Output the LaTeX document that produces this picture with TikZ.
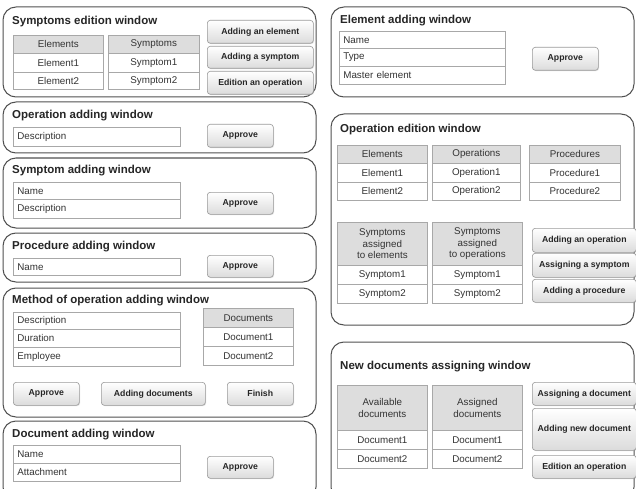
\documentclass[tikz,border=0pt]{standalone}
\usepackage{fontspec}
\setmainfont{Liberation Sans}
\usetikzlibrary{shadows}
\definecolor{winc}{HTML}{505050}
\definecolor{cellc}{HTML}{A8A8A8}
\definecolor{hdrc}{HTML}{DDDDDD}
\definecolor{btnc}{HTML}{9A9A9A}
\tikzset{
  x=1pt, y=-1pt,
  win/.style={draw=winc, line width=1pt, rounded corners=13pt},
  wtitle/.style={anchor=west, inner sep=0pt, font=\bfseries\fontsize{11.5}{13}\selectfont, text=black!85},
  cell/.style={draw=cellc, line width=0.7pt, fill=white, inner sep=0pt, align=center, font=\fontsize{9.8}{11.5}\selectfont, text=black!80},
  hdr/.style={cell, fill=hdrc},
  field/.style={draw=cellc, line width=0.7pt, fill=white, inner xsep=4pt, inner ysep=0pt, align=left, font=\fontsize{9.8}{11.5}\selectfont, text=black!80},
  btn/.style={draw=btnc, line width=0.6pt, rounded corners=3pt, top color=white, bottom color=black!14, inner sep=0pt, align=center, font=\bfseries\fontsize{8.7}{10}\selectfont, text=black!85, drop shadow={opacity=0.25, shadow xshift=0.8pt, shadow yshift=-0.8pt}}
}
% name, style, x1, y1, x2, y2, text
\newcommand\bx[7]{\node[#2, anchor=north west, minimum width={(#5)-(#3)}, minimum height={(#6)-(#4)}] (#1) at (#3,#4) {#7};}
\newcommand\fld[6]{\pgfmathsetmacro\tw{#4-#2-8}\node[field, anchor=north west, text width=\tw pt, minimum height={(#5)-(#3)}] (#1) at (#2,#3) {#6};}
\begin{document}
\begin{tikzpicture}
\fill[white] (0,0) rectangle (636,489);
\clip (0,0) rectangle (636,489);
% ---------- Left column ----------
% Symptoms edition window
\draw[win] (3,7) rectangle (316,97);
\node[wtitle] (t1) at (12,22) {Symptoms edition window};
\bx{e0}{hdr}{13}{35}{103}{53}{Elements}
\bx{e1}{cell}{13}{53}{103}{72}{Element1}
\bx{e2}{cell}{13}{72}{103}{89}{Element2}
\bx{s0}{hdr}{108}{35}{199}{53}{Symptoms}
\bx{s1}{cell}{108}{53}{199}{72}{Symptom1}
\bx{s2}{cell}{108}{72}{199}{89}{Symptom2}
\bx{b11}{btn}{207}{20}{313}{43}{Adding an element}
\bx{b12}{btn}{207}{46}{313}{68}{Adding a symptom}
\bx{b13}{btn}{207}{71}{313}{94}{Edition an operation}
% Operation adding window
\draw[win] (3,102) rectangle (316,153);
\node[wtitle] (t2) at (12,116) {Operation adding window};
\fld{f21}{13}{127}{180}{146}{Description}
\bx{b21}{btn}{207}{124}{273}{147}{Approve}
% Symptom adding window
\draw[win] (3,158) rectangle (316,228);
\node[wtitle] (t3) at (12,171) {Symptom adding window};
\fld{f31}{13}{182}{180}{199}{Name}
\fld{f32}{13}{199}{180}{218}{Description}
\bx{b31}{btn}{207}{192}{273}{214}{Approve}
% Procedure adding window
\draw[win] (3,233) rectangle (316,282);
\node[wtitle] (t4) at (12,247) {Procedure adding window};
\fld{f41}{13}{258}{180}{275}{Name}
\bx{b41}{btn}{207}{255}{273}{277}{Approve}
% Method of operation adding window
\draw[win] (3,288) rectangle (316,417);
\node[wtitle] (t5) at (12,301) {Method of operation adding window};
\fld{f51}{13}{312}{180}{329}{Description}
\fld{f52}{13}{329}{180}{347}{Duration}
\fld{f53}{13}{347}{180}{366}{Employee}
\bx{d0}{hdr}{203}{308}{293}{327}{Documents}
\bx{d1}{cell}{203}{327}{293}{346}{Document1}
\bx{d2}{cell}{203}{346}{293}{365}{Document2}
\bx{b51}{btn}{13}{382}{79}{405}{Approve}
\bx{b52}{btn}{101}{382}{205}{405}{Adding documents}
\bx{b53}{btn}{227}{382}{293}{405}{Finish}
% Document adding window
\draw[win] (3,421) rectangle (316,500);
\node[wtitle] (t6) at (12,435) {Document adding window};
\fld{f61}{13}{445}{180}{463}{Name}
\fld{f62}{13}{463}{180}{481}{Attachment}
\bx{b61}{btn}{207}{456}{273}{478}{Approve}
% ---------- Right column ----------
% Element adding window
\draw[win] (331,7) rectangle (634,97);
\node[wtitle] (t7) at (340,21) {Element adding window};
\fld{f71}{339}{31}{505}{48}{Name}
\fld{f72}{339}{48}{505}{66}{Type}
\fld{f73}{339}{66}{505}{84}{Master element}
\bx{b71}{btn}{532}{47}{598}{70}{Approve}
% Operation edition window
\draw[win] (331,114) rectangle (634,325);
\node[wtitle] (t8) at (340,130) {Operation edition window};
\bx{oe0}{hdr}{337}{145}{427}{163}{Elements}
\bx{oe1}{cell}{337}{163}{427}{182}{Element1}
\bx{oe2}{cell}{337}{182}{427}{200}{Element2}
\bx{oo0}{hdr}{432}{145}{520}{163}{Operations}
\bx{oo1}{cell}{432}{163}{520}{182}{Operation1}
\bx{oo2}{cell}{432}{182}{520}{200}{Operation2}
\bx{op0}{hdr}{529}{145}{620}{163}{Procedures}
\bx{op1}{cell}{529}{163}{620}{182}{Procedure1}
\bx{op2}{cell}{529}{182}{620}{200}{Procedure2}
\bx{se0}{hdr}{337}{222}{427}{265}{Symptoms\\assigned\\to elements}
\bx{se1}{cell}{337}{265}{427}{284}{Symptom1}
\bx{se2}{cell}{337}{284}{427}{303}{Symptom2}
\bx{so0}{hdr}{432}{222}{522}{265}{Symptoms\\assigned\\to operations}
\bx{so1}{cell}{432}{265}{522}{284}{Symptom1}
\bx{so2}{cell}{432}{284}{522}{303}{Symptom2}
\bx{b81}{btn}{532}{228}{636}{252}{Adding an operation}
\bx{b82}{btn}{532}{253}{636}{277}{Assigning a symptom}
\bx{b83}{btn}{532}{279}{636}{302}{Adding a procedure}
% New documents assigning window
\draw[win] (331,342) rectangle (634,500);
\node[wtitle] (t9) at (340,367) {New documents assigning window};
\bx{ad0}{hdr}{337}{385}{427}{430}{Available\\documents}
\bx{ad1}{cell}{337}{430}{427}{449}{Document1}
\bx{ad2}{cell}{337}{449}{427}{468}{Document2}
\bx{sd0}{hdr}{432}{385}{522}{430}{Assigned\\documents}
\bx{sd1}{cell}{432}{430}{522}{449}{Document1}
\bx{sd2}{cell}{432}{449}{522}{468}{Document2}
\bx{b91}{btn}{532}{382}{636}{405}{Assigning a document}
\bx{b92}{btn}{532}{408}{636}{450}{Adding new document}
\bx{b93}{btn}{532}{455}{636}{478}{Edition an operation}
\end{tikzpicture}
\end{document}
